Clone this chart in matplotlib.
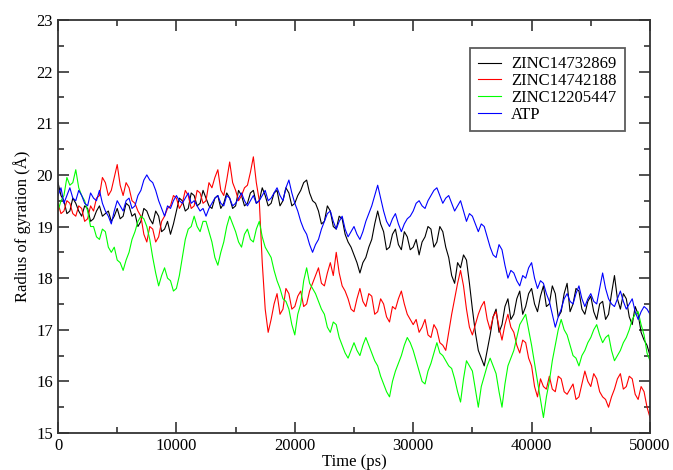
import numpy as np
import matplotlib
matplotlib.use("Agg")
import matplotlib.pyplot as plt
from matplotlib.ticker import MultipleLocator

plt.rcParams['font.family'] = ['Liberation Serif', 'DejaVu Serif']

# time axis, one value every 250 ps
time_ps = np.arange(0, 50001, 250)

zinc14732869 = [
    19.85, 19.6, 19.5, 19.25, 19.3, 19.55, 19.45, 19.3, 19.2, 19.4, 19.35, 19.1, 19.15, 19.3, 19.4, 19.2, 19.25, 19.3, 19.1, 19.2,
    19.35, 19.15, 19.2, 19.45, 19.4, 19.2, 19.25, 19.0, 19.1, 19.35, 19.3, 19.15, 19.05, 19.3, 19.2, 18.9, 18.95, 19.1, 18.85, 19.05,
    19.3, 19.55, 19.5, 19.3, 19.35, 19.65, 19.6, 19.4, 19.45, 19.7, 19.55, 19.4, 19.35, 19.55, 19.6, 19.35, 19.45, 19.65, 19.55, 19.35,
    19.4, 19.7, 19.6, 19.4, 19.45, 19.65, 19.7, 19.45, 19.5, 19.75, 19.6, 19.4, 19.45, 19.65, 19.7, 19.4, 19.5, 19.75, 19.65, 19.4,
    19.45, 19.6, 19.7, 19.85, 19.9, 19.65, 19.5, 19.45, 19.3, 19.05, 19.1, 19.4, 19.3, 19.0, 18.95, 19.2, 19.15, 18.85, 18.7, 18.6,
    18.45, 18.3, 18.1, 18.3, 18.4, 18.6, 18.75, 19.05, 19.3, 19.05, 18.9, 18.55, 18.6, 18.85, 18.95, 18.65, 18.55, 18.9, 18.8, 18.55,
    18.6, 18.75, 18.45, 18.7, 18.8, 19.0, 18.95, 18.6, 18.7, 19.0, 18.9, 18.6, 18.4, 18.05, 17.9, 18.3, 18.2, 18.45, 18.35, 17.9,
    17.4, 16.95, 16.6, 16.45, 16.3, 16.6, 16.9, 17.25, 17.4, 16.95, 17.1, 17.45, 17.6, 17.2, 17.3, 17.6, 17.75, 17.3, 17.45, 17.7,
    17.8, 17.5, 17.35, 17.65, 17.85, 17.45, 17.5, 17.85, 17.7, 17.25, 17.35, 17.7, 17.9, 17.35, 17.5, 17.8, 17.75, 17.4, 17.3, 17.55,
    17.65, 17.35, 17.2, 17.5, 17.55, 17.2, 17.3, 17.7, 18.05, 17.6, 17.4, 17.7, 17.6, 17.25, 17.1, 17.45, 17.3, 16.95, 16.8, 16.7,
    16.5]

zinc14742188 = [
    19.45, 19.25, 19.3, 19.5, 19.45, 19.25, 19.2, 19.4, 19.35, 19.1, 19.15, 19.4, 19.3, 19.55, 19.6, 19.95, 19.85, 19.6, 19.7, 19.95,
    20.2, 19.8, 19.6, 19.85, 19.75, 19.5, 19.45, 19.3, 19.2, 18.85, 18.7, 19.0, 18.95, 18.7, 18.8, 19.1, 19.2, 19.35, 19.4, 19.6,
    19.55, 19.35, 19.45, 19.7, 19.6, 19.35, 19.4, 19.7, 19.65, 19.45, 19.5, 19.85, 19.75, 19.95, 20.1, 19.7, 19.6, 19.9, 20.25, 19.85,
    19.7, 19.5, 19.6, 19.75, 19.8, 20.05, 20.35, 19.85, 19.5, 18.3, 17.4, 16.95, 17.2, 17.5, 17.7, 17.3, 17.4, 17.8, 17.7, 17.4,
    17.45, 17.65, 17.75, 17.45, 17.5, 17.75, 17.9, 18.05, 18.2, 17.9, 17.85, 18.1, 18.3, 18.05, 18.5, 18.1, 17.85, 17.75, 17.6, 17.4,
    17.35, 17.6, 17.8, 17.55, 17.45, 17.7, 17.65, 17.3, 17.35, 17.6, 17.5, 17.25, 17.15, 17.45, 17.4, 17.6, 17.75, 17.5, 17.3, 17.2,
    17.1, 17.2, 16.95, 17.05, 17.2, 16.9, 16.85, 17.1, 17.0, 16.75, 16.7, 16.6, 16.95, 17.3, 17.6, 17.9, 18.15, 17.85, 17.4, 17.05,
    16.9, 17.1, 17.3, 17.45, 17.55, 17.2, 17.0, 17.25, 17.35, 17.05, 16.8, 17.1, 17.3, 17.05, 16.95, 16.7, 16.55, 16.8, 16.75, 16.45,
    16.3, 15.9, 15.7, 16.05, 15.9, 15.85, 16.1, 15.85, 15.8, 16.1, 16.05, 15.8, 15.75, 15.85, 15.95, 15.65, 15.7, 15.95, 16.2, 16.0,
    15.9, 16.15, 16.05, 15.8, 15.7, 15.65, 15.5, 15.7, 15.85, 16.05, 16.15, 15.85, 15.9, 16.1, 16.05, 15.75, 15.65, 15.9, 15.8, 15.5,
    15.3]

zinc12205447 = [
    19.3, 19.5, 19.6, 19.95, 19.8, 19.85, 20.1, 19.75, 19.6, 19.5, 19.3, 19.0, 19.0, 18.8, 18.75, 18.95, 18.9, 18.6, 18.5, 18.6,
    18.35, 18.3, 18.15, 18.35, 18.5, 18.75, 18.9, 19.1, 19.2, 19.15, 19.0, 18.75, 18.4, 18.1, 17.85, 18.05, 18.2, 18.0, 17.95, 17.75,
    17.8, 18.05, 18.4, 18.75, 18.95, 19.0, 19.2, 19.0, 18.9, 19.1, 19.1, 18.9, 18.7, 18.4, 18.25, 18.5, 18.7, 19.0, 19.2, 19.05,
    18.9, 18.7, 18.6, 18.85, 18.95, 18.75, 18.7, 18.95, 19.1, 18.8, 18.6, 18.5, 18.4, 18.15, 17.95, 17.8, 17.6, 17.55, 17.4, 17.1,
    16.9, 17.3, 17.5, 17.95, 18.2, 17.9, 17.8, 17.7, 17.55, 17.4, 17.3, 17.05, 16.95, 17.15, 17.1, 16.85, 16.7, 16.55, 16.45, 16.6,
    16.75, 16.6, 16.5, 16.7, 16.85, 16.7, 16.55, 16.4, 16.3, 16.1, 15.95, 15.8, 15.7, 16.0, 16.2, 16.35, 16.5, 16.7, 16.85, 16.75,
    16.6, 16.4, 16.2, 16.0, 15.95, 16.2, 16.35, 16.55, 16.75, 16.55, 16.5, 16.4, 16.3, 16.25, 16.05, 15.8, 15.6, 16.05, 16.4, 16.3,
    16.2, 15.85, 15.5, 15.9, 16.1, 16.3, 16.45, 16.3, 16.15, 15.8, 15.5, 15.95, 16.3, 16.45, 16.6, 16.85, 17.1, 17.2, 17.3, 17.0,
    16.7, 16.35, 16.0, 15.65, 15.3, 15.7, 16.0, 16.4, 16.7, 17.0, 17.2, 17.0, 16.9, 16.7, 16.5, 16.45, 16.3, 16.5, 16.6, 16.75,
    16.85, 17.0, 17.1, 16.9, 16.75, 16.85, 16.9, 16.6, 16.4, 16.5, 16.6, 16.75, 16.85, 17.0, 17.2, 17.3, 17.35, 17.1, 16.9, 16.55,
    16.4]

atp = [
    19.6, 19.75, 19.45, 19.6, 19.75, 19.55, 19.5, 19.7, 19.6, 19.45, 19.4, 19.65, 19.55, 19.5, 19.7, 19.45, 19.3, 19.2, 19.05, 19.3,
    19.5, 19.4, 19.3, 19.5, 19.55, 19.35, 19.4, 19.6, 19.7, 19.9, 20.0, 19.9, 19.85, 19.7, 19.5, 19.35, 19.2, 19.4, 19.35, 19.5,
    19.6, 19.5, 19.45, 19.55, 19.65, 19.45, 19.5, 19.4, 19.3, 19.35, 19.2, 19.35, 19.45, 19.55, 19.6, 19.45, 19.4, 19.6, 19.55, 19.4,
    19.45, 19.55, 19.65, 19.5, 19.4, 19.5, 19.6, 19.45, 19.5, 19.6, 19.7, 19.5, 19.55, 19.65, 19.75, 19.6, 19.5, 19.75, 19.9, 19.65,
    19.45, 19.3, 19.1, 18.95, 18.85, 18.65, 18.5, 18.65, 18.75, 18.95, 19.1, 19.25, 19.3, 19.1, 18.95, 19.1, 19.2, 18.95, 18.8, 18.9,
    19.0, 18.85, 18.75, 18.9, 19.1, 19.25, 19.4, 19.6, 19.8, 19.55, 19.3, 19.1, 19.0, 19.15, 19.25, 19.05, 18.9, 19.05, 19.15, 19.2,
    19.3, 19.45, 19.5, 19.4, 19.35, 19.5, 19.6, 19.7, 19.75, 19.6, 19.45, 19.55, 19.6, 19.45, 19.3, 19.4, 19.5, 19.3, 19.1, 19.25,
    19.2, 19.05, 18.9, 19.05, 19.0, 18.8, 18.6, 18.45, 18.4, 18.65, 18.55, 18.25, 18.0, 18.15, 18.1, 17.95, 17.85, 18.05, 18.0, 18.2,
    18.3, 18.0, 17.8, 17.95, 17.9, 17.7, 17.55, 17.3, 17.05, 17.25, 17.4, 17.6, 17.7, 17.55, 17.5, 17.7, 17.85, 17.6, 17.45, 17.6,
    17.7, 17.55, 17.5, 17.8, 18.1, 17.8, 17.6, 17.5, 17.45, 17.6, 17.75, 17.55, 17.4, 17.5, 17.6, 17.35, 17.2, 17.35, 17.45, 17.4,
    17.3]

fig = plt.figure(figsize=(6.73, 4.70), dpi=100)
ax = fig.add_axes([0.0862, 0.0787, 0.8796, 0.8787])

ax.plot(time_ps, zinc14732869, color='black', lw=0.8, label='ZINC14732869')
ax.plot(time_ps, zinc14742188, color='red', lw=0.8, label='ZINC14742188')
ax.plot(time_ps, zinc12205447, color='#00ff00', lw=0.8, label='ZINC12205447')
ax.plot(time_ps, atp, color='blue', lw=0.8, label='ATP')

ax.set_xlim(0, 50000)
ax.set_ylim(15, 23)
ax.xaxis.set_major_locator(MultipleLocator(10000))
ax.xaxis.set_minor_locator(MultipleLocator(5000))
ax.yaxis.set_major_locator(MultipleLocator(1))
ax.yaxis.set_minor_locator(MultipleLocator(0.5))
ax.tick_params(which='both', direction='in', top=True, right=True,
               labelsize=12, color='#333333')
ax.tick_params(which='major', length=8, width=1.2)
ax.tick_params(which='minor', length=4, width=1.2)
for s in ax.spines.values():
    s.set_linewidth(1.3)
    s.set_color('#333333')

ax.set_xlabel('Time (ps)', fontsize=12, labelpad=0)
ax.set_ylabel('Radius of gyration (Å)', fontsize=12, labelpad=4)

leg = ax.legend(loc='upper right', bbox_to_anchor=(0.958, 0.932), fontsize=12,
                frameon=True, fancybox=False, handlelength=1.4, borderaxespad=0,
                labelspacing=0.05, handletextpad=0.6, borderpad=0.5)
leg.get_frame().set_edgecolor('#333333')
leg.get_frame().set_linewidth(1.3)

fig.savefig('out.png', dpi=100)
